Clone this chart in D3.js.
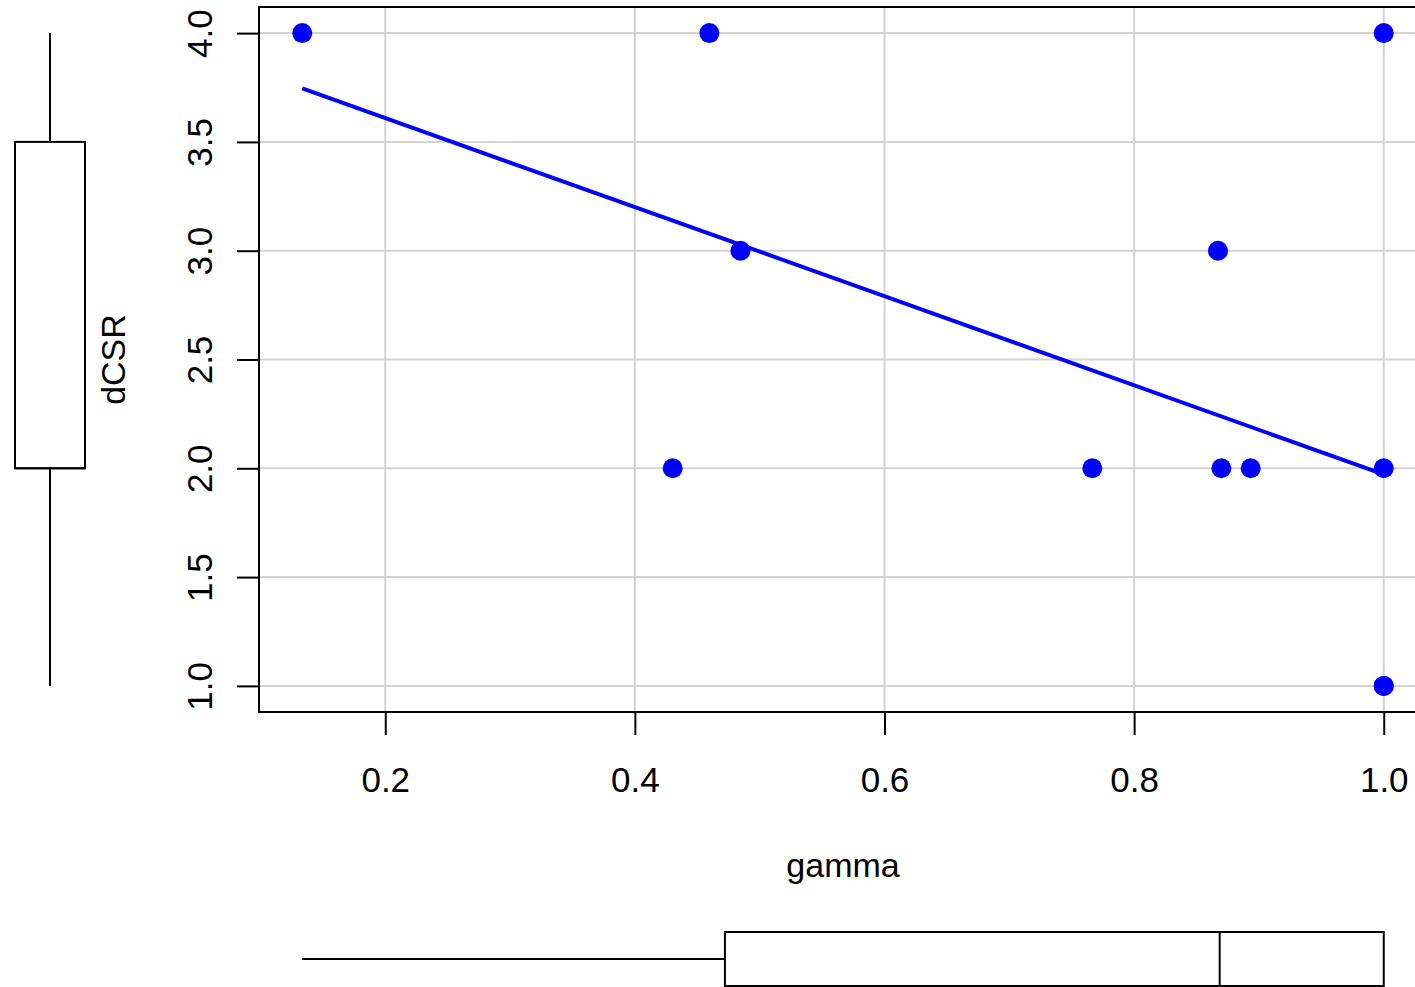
<!DOCTYPE html>
<html>
<head>
<meta charset="utf-8">
<script src="https://cdn.jsdelivr.net/npm/d3@7"></script>
<style>
  html, body { margin: 0; padding: 0; background: #ffffff; }
  svg { display: block; }
  text { font-family: "Liberation Sans", Arial, sans-serif; fill: #000; }
</style>
</head>
<body>
<svg id="chart" width="1415" height="987"></svg>
<script>
// ---- data ----
const gamma = [0.1335, 0.4597, 0.4846, 0.4303, 0.7665, 0.8672, 0.8699, 0.8934, 1.0, 1.0, 1.0, 1.0];
const dCSR  = [4, 4, 3, 2, 2, 3, 2, 2, 2, 1, 4, 1];
const xTicks = [0.2, 0.4, 0.6, 0.8, 1.0];
const yTicks = [1.0, 1.5, 2.0, 2.5, 3.0, 3.5, 4.0];
const xLabel = "gamma";
const yLabel = "dCSR";

const svg = d3.select("#chart");
const W = 1415, H = 987;
const plot = { left: 259, right: 1427, top: 7, bottom: 712 };

function padded(ext) { const d = (ext[1] - ext[0]) * 0.04; return [ext[0] - d, ext[1] + d]; }
const x = d3.scaleLinear().domain(padded(d3.extent(gamma))).range([plot.left, plot.right]);
const y = d3.scaleLinear().domain(padded(d3.extent(dCSR))).range([plot.bottom, plot.top]);

// grid
const grid = svg.append("g").attr("stroke", "#d3d3d3").attr("stroke-width", 2);
grid.selectAll("line.v").data(xTicks).join("line")
  .attr("x1", d => x(d)).attr("x2", d => x(d)).attr("y1", plot.top).attr("y2", plot.bottom);
grid.selectAll("line.h").data(yTicks.filter(t => t % 1 === 0 || true)).join("line")
  .attr("x1", plot.left).attr("x2", plot.right).attr("y1", d => y(d)).attr("y2", d => y(d));

// axes
const xAxis = d3.axisBottom(x).tickValues(xTicks).tickSize(23).tickPadding(0).tickFormat(d3.format(".1f"));
const gx = svg.append("g").attr("transform", `translate(0,${plot.bottom})`).call(xAxis);
gx.select(".domain").remove();
gx.selectAll(".tick line").attr("stroke", "#000").attr("stroke-width", 2);
gx.selectAll(".tick text").attr("font-size", 35).attr("dy", null).attr("y", 80)
  .attr("font-family", "Liberation Sans, Arial, sans-serif");

const yAxis = d3.axisLeft(y).tickValues(yTicks).tickSize(22).tickPadding(0).tickFormat(d3.format(".1f"));
const gy = svg.append("g").attr("transform", `translate(${plot.left},0)`).call(yAxis);
gy.select(".domain").remove();
gy.selectAll(".tick line").attr("stroke", "#000").attr("stroke-width", 2);
gy.selectAll(".tick text").attr("font-size", 35).attr("dy", null).attr("x", null)
  .attr("text-anchor", "middle")
  .attr("font-family", "Liberation Sans, Arial, sans-serif")
  .attr("transform", "translate(-47,0) rotate(-90)");

// frame
svg.append("rect").attr("x", plot.left).attr("y", plot.top)
  .attr("width", plot.right - plot.left).attr("height", plot.bottom - plot.top)
  .attr("fill", "none").attr("stroke", "#000").attr("stroke-width", 2);

// axis titles
svg.append("text").attr("x", (plot.left + plot.right) / 2).attr("y", 877)
  .attr("text-anchor", "middle").attr("font-size", 34).text(xLabel);
svg.append("text").attr("transform", `translate(125,${(plot.top + plot.bottom) / 2}) rotate(-90)`)
  .attr("text-anchor", "middle").attr("font-size", 34).text(yLabel);

// least-squares line
const mx = d3.mean(gamma), my = d3.mean(dCSR);
const sxy = d3.sum(gamma, (g, i) => (g - mx) * (dCSR[i] - my));
const sxx = d3.sum(gamma, g => (g - mx) ** 2);
const slope = sxy / sxx, intercept = my - slope * mx;
const ext = d3.extent(gamma);
svg.append("line")
  .attr("x1", x(ext[0])).attr("y1", y(intercept + slope * ext[0]))
  .attr("x2", x(ext[1])).attr("y2", y(intercept + slope * ext[1]))
  .attr("stroke", "#0000ff").attr("stroke-width", 4);

// points
svg.append("g").selectAll("circle").data(gamma).join("circle")
  .attr("cx", d => x(d)).attr("cy", (d, i) => y(dCSR[i])).attr("r", 10).attr("fill", "#0000ff");

// Tukey five-number summary + whiskers
function boxStats(arr) {
  const s = arr.slice().sort(d3.ascending), n = s.length;
  const at = p => { const lo = Math.floor(p) - 1, hi = Math.ceil(p) - 1; return (s[lo] + s[hi]) / 2; };
  const n4 = Math.floor((n + 3) / 2) / 2;
  const q1 = at(n4), med = at((n + 1) / 2), q3 = at(n + 1 - n4);
  const iqr = q3 - q1;
  const lo = d3.min(s.filter(v => v >= q1 - 1.5 * iqr));
  const hi = d3.max(s.filter(v => v <= q3 + 1.5 * iqr));
  return { q1, med, q3, lo, hi };
}

// left boxplot (dCSR)
const by = boxStats(dCSR);
const lb = svg.append("g").attr("stroke", "#000").attr("stroke-width", 2).attr("fill", "none");
lb.append("line").attr("x1", 50).attr("x2", 50).attr("y1", y(by.hi)).attr("y2", y(by.q3));
lb.append("line").attr("x1", 50).attr("x2", 50).attr("y1", y(by.q1)).attr("y2", y(by.lo));
lb.append("rect").attr("x", 15).attr("width", 70).attr("y", y(by.q3)).attr("height", y(by.q1) - y(by.q3));
lb.append("line").attr("x1", 15).attr("x2", 85).attr("y1", y(by.med)).attr("y2", y(by.med));

// bottom boxplot (gamma)
const bx = boxStats(gamma);
const bb = svg.append("g").attr("stroke", "#000").attr("stroke-width", 2).attr("fill", "none");
bb.append("line").attr("y1", 959).attr("y2", 959).attr("x1", x(bx.lo)).attr("x2", x(bx.q1));
bb.append("line").attr("y1", 959).attr("y2", 959).attr("x1", x(bx.q3)).attr("x2", x(bx.hi));
bb.append("rect").attr("y", 932).attr("height", 54).attr("x", x(bx.q1)).attr("width", x(bx.q3) - x(bx.q1));
bb.append("line").attr("y1", 932).attr("y2", 986).attr("x1", x(bx.med)).attr("x2", x(bx.med));
</script>
</body>
</html>
